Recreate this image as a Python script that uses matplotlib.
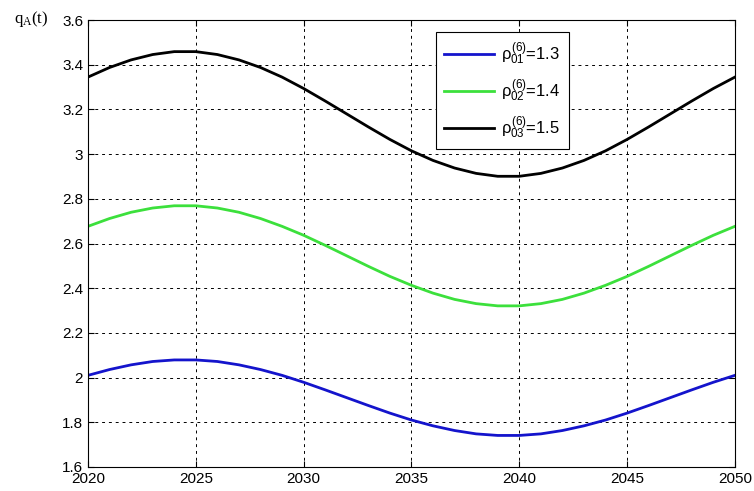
import matplotlib
matplotlib.use('Agg')
import matplotlib.pyplot as plt
from matplotlib.ticker import FormatStrFormatter

# years and curve values
years = list(range(2020, 2051))
q_blue = [2.010, 2.036, 2.057, 2.072, 2.079, 2.079, 2.072, 2.057, 2.036, 2.010,
          1.979, 1.945, 1.910, 1.875, 1.841, 1.810, 1.784, 1.763, 1.748, 1.741,
          1.741, 1.748, 1.763, 1.784, 1.810, 1.841, 1.875, 1.910, 1.945, 1.979, 2.010]
q_green = [2.677, 2.712, 2.740, 2.759, 2.769, 2.769, 2.759, 2.740, 2.712, 2.677,
           2.637, 2.592, 2.545, 2.498, 2.453, 2.413, 2.378, 2.350, 2.331, 2.321,
           2.321, 2.331, 2.350, 2.378, 2.413, 2.453, 2.498, 2.545, 2.592, 2.637, 2.677]
q_black = [3.345, 3.388, 3.422, 3.446, 3.459, 3.459, 3.446, 3.422, 3.388, 3.345,
           3.294, 3.238, 3.180, 3.122, 3.066, 3.015, 2.972, 2.938, 2.914, 2.901,
           2.901, 2.914, 2.938, 2.972, 3.015, 3.066, 3.122, 3.180, 3.238, 3.294, 3.345]
labels = [r'$\rho_{01}^{(6)}$=1.3', r'$\rho_{02}^{(6)}$=1.4', r'$\rho_{03}^{(6)}$=1.5']
xticks = [2020, 2025, 2030, 2035, 2040, 2045, 2050]
yticks = [1.6, 1.8, 2.0, 2.2, 2.4, 2.6, 2.8, 3.0, 3.2, 3.4, 3.6]

plt.rcParams['font.family'] = ['Liberation Sans', 'DejaVu Sans']
plt.rcParams['mathtext.fontset'] = 'custom'
plt.rcParams['mathtext.rm'] = 'Liberation Sans'
plt.rcParams['mathtext.it'] = 'Liberation Sans'

fig = plt.figure(figsize=(7.54, 4.91), dpi=100)
ax = fig.add_axes([0.1167, 0.049, 0.858, 0.91])

ax.plot(years, q_blue, color='#1414cc', lw=2, label=labels[0])
ax.plot(years, q_green, color='#3ce03c', lw=2, label=labels[1])
ax.plot(years, q_black, color='black', lw=2, label=labels[2])

ax.set_xlim(2020, 2050)
ax.set_ylim(1.6, 3.6)
ax.set_xticks(xticks)
ax.set_yticks(yticks)
ax.yaxis.set_major_formatter(FormatStrFormatter('%g'))
ax.tick_params(direction='in', length=4, labelsize=11, top=True, right=True, color='black')
ax.grid(True, color='black', linestyle=(0, (3, 4)), linewidth=0.7)
for s in ax.spines.values():
    s.set_linewidth(0.8)

leg = ax.legend(loc='upper left', bbox_to_anchor=(0.538, 0.973), fontsize=12,
                fancybox=False, framealpha=1, edgecolor='black', borderaxespad=0,
                handlelength=3.0, handletextpad=0.4, labelspacing=0.65, borderpad=0.5)
leg.get_frame().set_linewidth(0.8)

fig.text(0.018, 0.962, r'q$_\mathregular{A}$(t)', fontsize=12, family='Liberation Serif',
         va='center')

plt.savefig('out.png', dpi=100)
plt.close()
